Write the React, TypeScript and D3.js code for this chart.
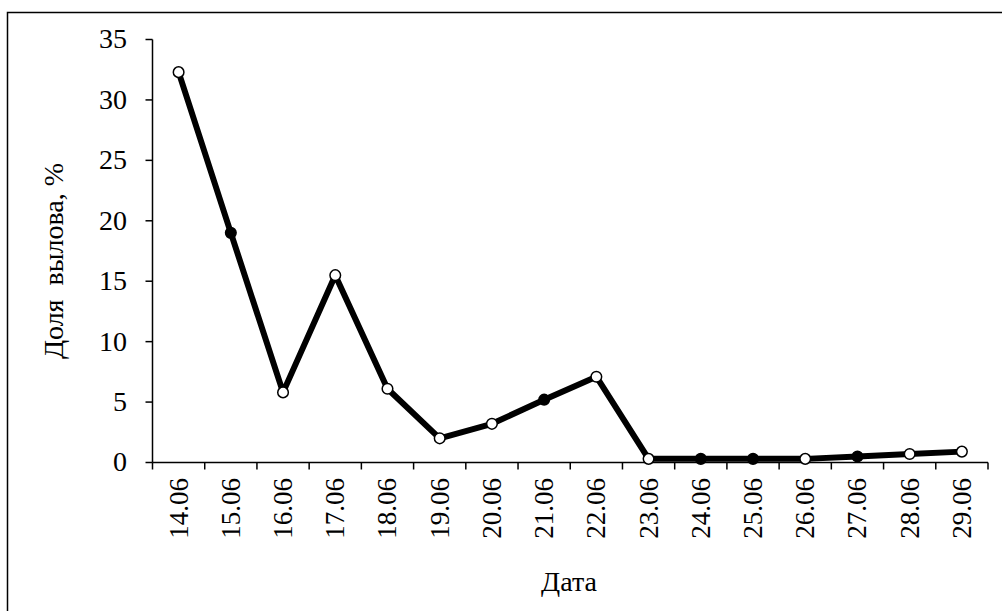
import React from "react";
import * as d3 from "d3";

const dates = ["14.06","15.06","16.06","17.06","18.06","19.06","20.06","21.06","22.06","23.06","24.06","25.06","26.06","27.06","28.06","29.06"];
const shares = [32.3, 19.0, 5.8, 15.5, 6.1, 2.0, 3.2, 5.2, 7.1, 0.3, 0.3, 0.3, 0.3, 0.5, 0.7, 0.9];
const filled = [false, true, false, false, false, false, false, true, false, false, true, true, false, true, false, false];
const yTicks = [0, 5, 10, 15, 20, 25, 30, 35];

export default function App() {
  const W = 1002, H = 611;
  const left = 152.5, right = 988, top = 39.5, bottom = 462.5;
  const x = d3.scaleBand<string>().domain(dates).range([left, right]);
  const y = d3.scaleLinear().domain([0, 35]).range([bottom, top]);
  const line = d3.line<number>()
    .x((_, i) => (x(dates[i]) as number) + x.bandwidth() / 2)
    .y((d) => y(d));
  const bounds = dates.map((d) => x(d) as number).concat([right]);
  const ff = "Liberation Serif";
  return (
    <svg width={W} height={H} style={{ position: "absolute", left: 0, top: 0 }}>
      <rect x={0} y={0} width={W} height={H} fill="#fff" />
      <rect x={7.5} y={12.5} width={1000} height={610} fill="none" stroke="#000" strokeWidth={1.5} />
      {/* y axis */}
      <line x1={left} x2={left} y1={top} y2={bottom} stroke="#000" strokeWidth={1.5} />
      {yTicks.map((t) => (
        <g key={t}>
          <line x1={left - 7} x2={left} y1={y(t)} y2={y(t)} stroke="#000" strokeWidth={1.5} />
          <text x={127} y={y(t)} dy="0.32em" textAnchor="end" fontFamily={ff} style={{ fontFamily: ff, fontSize: "28px" }}>{t}</text>
        </g>
      ))}
      {/* x axis */}
      <line x1={left} x2={right} y1={bottom} y2={bottom} stroke="#000" strokeWidth={1.5} />
      {bounds.map((b, i) => (
        <line key={i} x1={b} x2={b} y1={bottom} y2={bottom + 7} stroke="#000" strokeWidth={1.5} />
      ))}
      {dates.map((d) => {
        const cx = (x(d) as number) + x.bandwidth() / 2;
        return (
          <text key={d} transform={`translate(${cx},${478}) rotate(-90)`} dy="0.33em" textAnchor="end" fontFamily={ff} style={{ fontFamily: ff, fontSize: "27px" }}>{d}</text>
        );
      })}
      <text x={569} y={591} textAnchor="middle" fontFamily={ff} style={{ fontFamily: ff, fontSize: "28px" }}>Дата</text>
      <text transform={`translate(${63},${261}) rotate(-90)`} textAnchor="middle" fontFamily={ff} style={{ fontFamily: ff, fontSize: "28px", whiteSpace: "pre" }}>{"Доля  вылова, %"}</text>
      {/* series */}
      <path d={line(shares) || ""} fill="none" stroke="#000" strokeWidth={6} strokeLinejoin="round" />
      {shares.map((v, i) => (
        <circle key={i} cx={(x(dates[i]) as number) + x.bandwidth() / 2} cy={y(v)} r={5.3} fill={filled[i] ? "#000" : "#fff"} stroke="#000" strokeWidth={1.5} />
      ))}
    </svg>
  );
}
